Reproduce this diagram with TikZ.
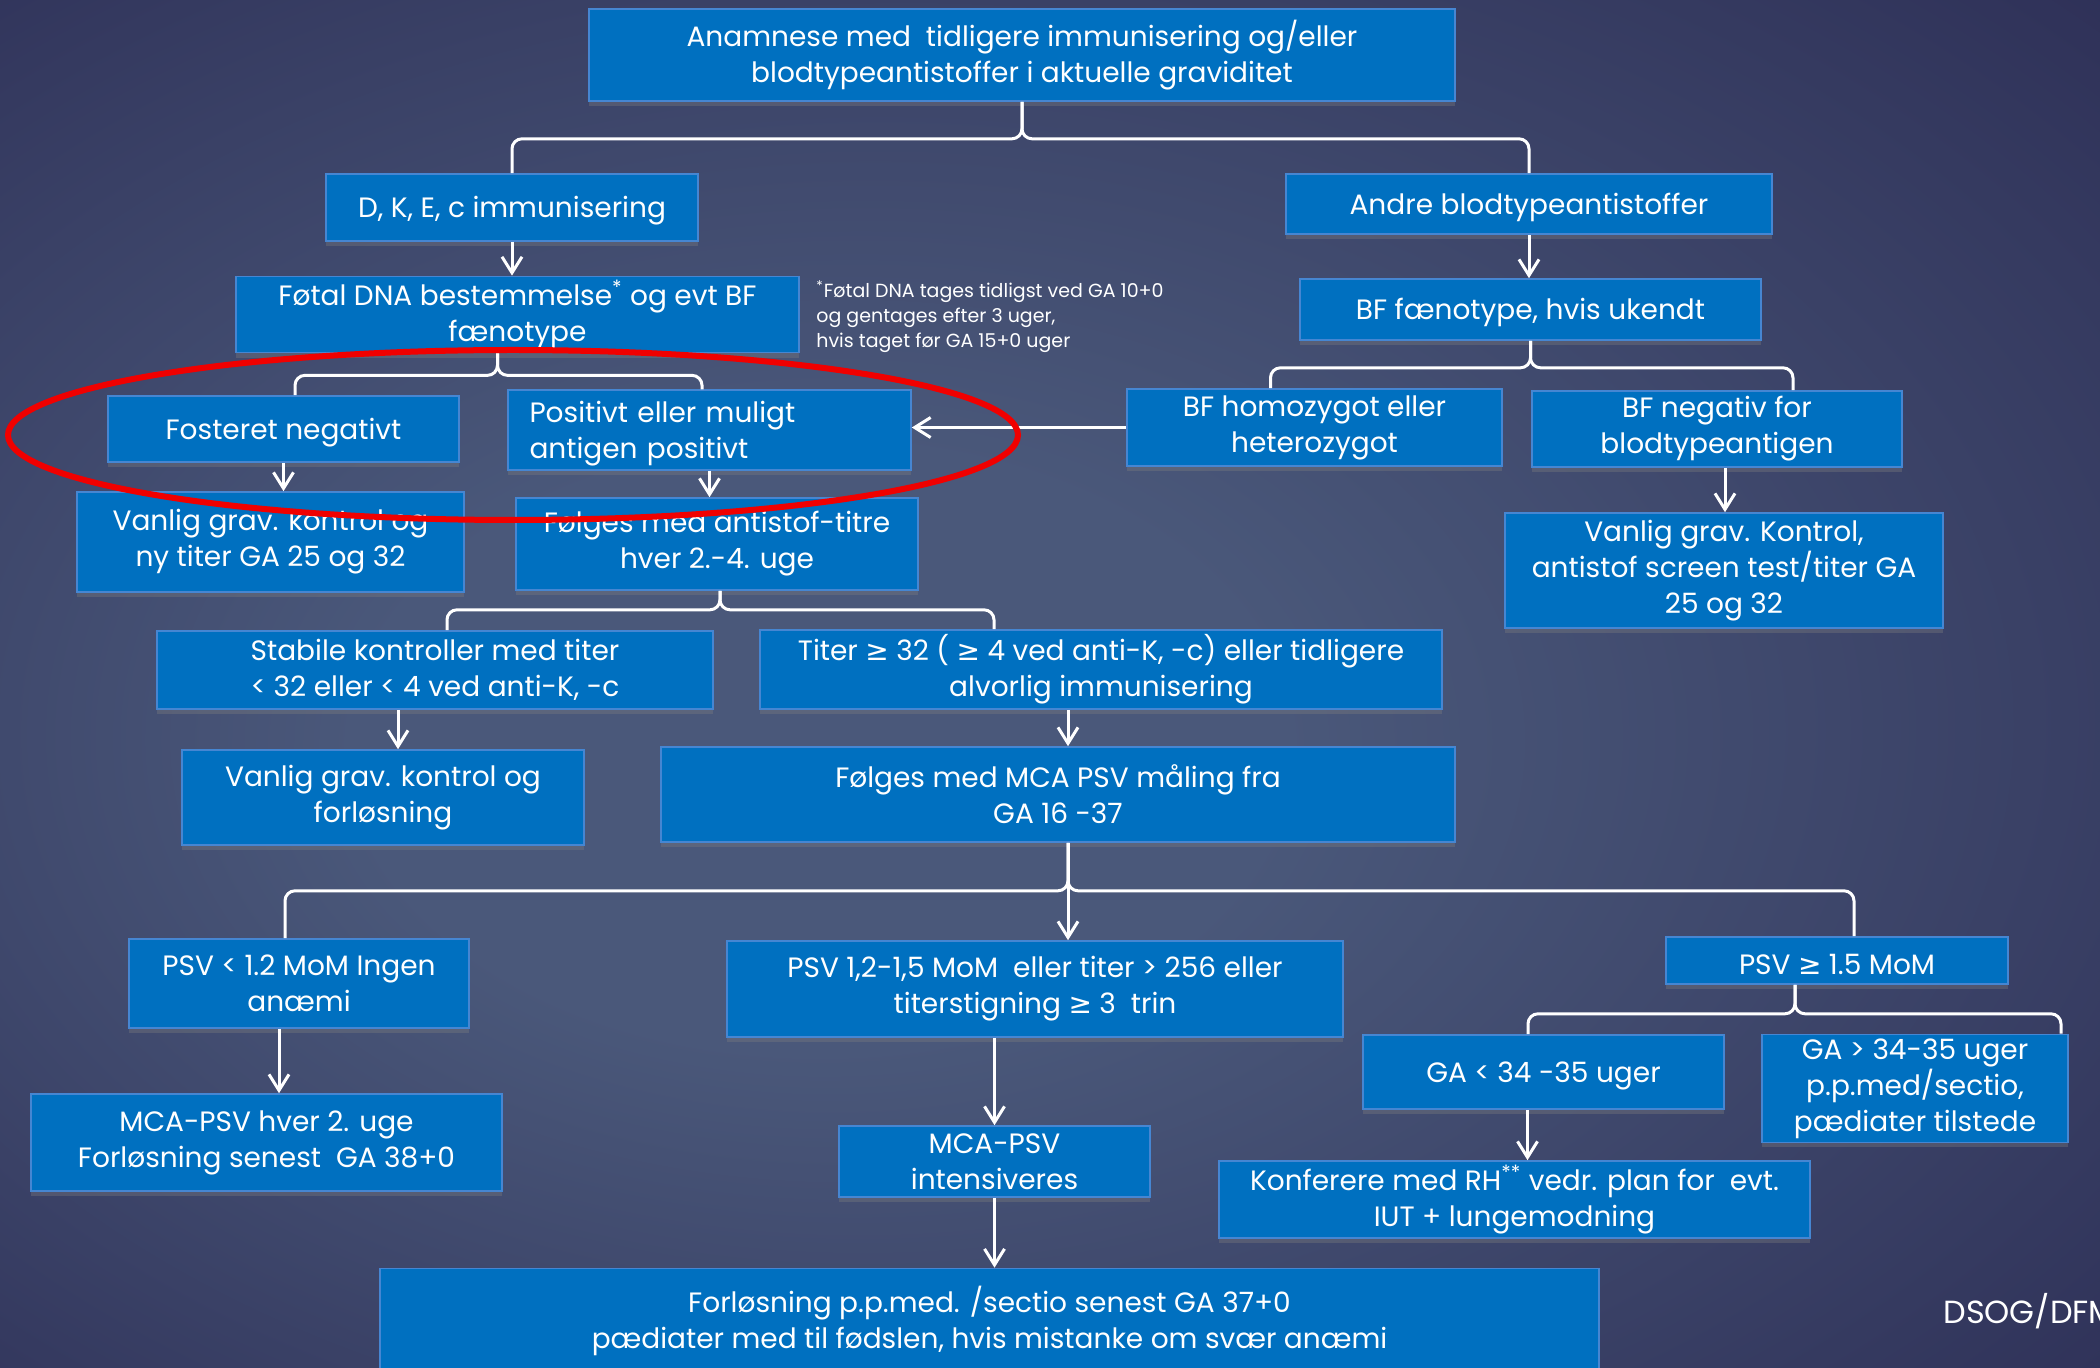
\documentclass[tikz,border=0pt]{standalone}
\usepackage{fontspec}
\setmainfont{Poppins}
\newfontfamily\symfont{DejaVu Sans}
\usetikzlibrary{arrows.meta, shadows}

\definecolor{bgdark}{RGB}{32,28,70}
\definecolor{bgmid}{RGB}{74,88,122}
\definecolor{boxblue}{RGB}{0,112,192}
\definecolor{boxline}{RGB}{70,134,210}
\definecolor{ringred}{RGB}{240,0,0}
\newcommand{\gesym}{{\symfont ≥}}
\pgfdeclareradialshading{bgshade}{\pgfpoint{-7bp}{-3bp}}{color(0bp)=(bgmid); color(11bp)=(bgmid); color(52bp)=(bgdark)}

\begin{document}
\begin{tikzpicture}[x=0.5pt, y=-0.5pt, >={Straight Barb[length=8pt,width=10pt]},
    box/.style={rectangle, fill=boxblue, draw=boxline, line width=0.8pt, text=white,
      align=center, inner sep=2pt, font=\fontsize{14}{18}\selectfont,
      execute at begin node={\rule{0pt}{14pt}},
      drop shadow={opacity=0.35, shadow xshift=0pt, shadow yshift=-2.5pt}},
    sz/.style 2 args={minimum width=#1*0.5pt, minimum height=#2*0.5pt},
    link/.style={draw=white, line width=1.5pt, rounded corners=5pt},
    arr/.style={draw=white, line width=1.5pt, ->},
    note/.style={text=white, align=left, inner sep=0pt, font=\fontsize{9.5}{12.5}\selectfont}]

  \shade[shading=bgshade] (0,0) rectangle (2100,1368);
  \useasboundingbox (0,0) rectangle (2100,1368);

  % top of the tree
  \node[box, sz={866}{92}] (anam) at (1022,55) {Anamnese med\ \ tidligere immunisering og/eller\\ blodtypeantistoffer i aktuelle graviditet};
  \node[box, sz={372}{67}] (dke) at (512,207.5) {D, K, E, c immunisering};
  \node[box, sz={486}{60}] (andre) at (1529,204) {Andre blodtypeantistoffer};
  \node[box, sz={563}{71}] (dna) at (517.5,314.5) {Føtal DNA bestemmelse\textsuperscript{*} og evt BF\\ fænotype};
  \node[note, anchor=north west] (fodnote) at (816,280) {\textsuperscript{*}Føtal DNA tages tidligst ved GA 10+0\\ og gentages efter 3 uger,\\ hvis taget før GA 15+0 uger};
  \node[box, sz={461}{61}] (bffen) at (1530.5,309.5) {BF fænotype, hvis ukendt};

  % second level
  \node[box, sz={351}{66}] (fost) at (283.5,429) {Fosteret negativt};
  \node[box, sz={403}{66}, text width=180pt, align=left] (posit) at (709.5,430) {Positivt eller muligt\\ antigen positivt};
  \node[box, sz={375}{77}] (bfhom) at (1314.5,427.5) {BF homozygot eller\\ heterozygot};
  \node[box, sz={370}{76}] (bfneg) at (1717,429) {BF negativ for\\ blodtypeantigen};
  \node[box, sz={387}{100}] (van1) at (270.5,542) {Vanlig grav. kontrol og\\ ny titer GA 25 og 32};
  \node[box, sz={402}{92}] (folg) at (717,544) {Følges med antistof-titre\\ hver 2.-4. uge};
  \node[box, sz={438}{115}] (vank) at (1724,570.5) {Vanlig grav. Kontrol,\\ antistof screen test/titer GA\\ 25 og 32};

  % titer
  \node[box, sz={556}{78}] (stab) at (435,670) {Stabile kontroller med titer\\ < 32 eller < 4 ved anti-K, -c};
  \node[box, sz={682}{79}] (titer) at (1101,669.5) {Titer \gesym\ 32 ( \gesym\ 4 ved anti-K, -c) eller tidligere\\ alvorlig immunisering};
  \node[box, sz={402}{95}] (van2) at (383,797.5) {Vanlig grav. kontrol og\\ forløsning};
  \node[box, sz={794}{95}] (mca) at (1058,794.5) {Følges med MCA PSV måling fra\\ GA 16 -37};

  % PSV
  \node[box, sz={340}{89}] (psvlo) at (299,983.5) {PSV < 1.2 MoM Ingen\\ anæmi};
  \node[box, sz={616}{96}] (psvmid) at (1035,989) {PSV 1,2-1,5 MoM\ \ eller titer > 256 eller\\ titerstigning \gesym\ 3\ \ trin};
  \node[box, sz={342}{47}] (psvhi) at (1837,960.5) {PSV \gesym\ 1.5 MoM};
  \node[box, sz={471}{97}] (mcahv) at (266.5,1142.5) {MCA-PSV hver 2. uge\\ Forløsning senest\ \ GA 38+0};
  \node[box, sz={311}{71}] (intens) at (994.5,1161.5) {MCA-PSV\\ intensiveres};
  \node[box, sz={361}{74}] (galo) at (1543.5,1072) {GA < 34 -35 uger};
  \node[box, sz={306}{107}] (gahi) at (1915,1088.5) {GA > 34-35 uger\\ p.p.med/sectio,\\ pædiater tilstede};
  \node[box, sz={591}{77}] (konf) at (1514.5,1199.5) {Konferere med RH\textsuperscript{**} vedr. plan for\ \ evt.\\ IUT + lungemodning};
  \node[box, sz={1219}{105}] (forl) at (989.5,1321) {Forløsning p.p.med. /sectio senest GA 37+0\\ pædiater med til fødslen, hvis mistanke om svær anæmi};
  \node[text=white, anchor=west, inner sep=0pt, font=\fontsize{16}{19}\selectfont] (dsog) at (1943,1311) {DSOG/DFM};

  % braces
  \draw[link] (anam.south) -- ++(0,37) -| (dke.north);
  \draw[link] (anam.south) -- ++(0,37) -| (andre.north);
  \draw[link] ([xshift=-10pt]dna.south) -- ++(0,22) -| ([xshift=5.75pt]fost.north);
  \draw[link] ([xshift=-10pt]dna.south) -- ++(0,22) -| ([xshift=-3.75pt]posit.north);
  \draw[link] (bffen.south) -- ++(0,27) -| ([xshift=-22pt]bfhom.north);
  \draw[link] (bffen.south) -- ++(0,27) -| ([xshift=38pt]bfneg.north);
  \draw[link] ([xshift=1.5pt]folg.south) -- ++(0,19) -| ([xshift=6pt]stab.north);
  \draw[link] ([xshift=1.5pt]folg.south) -- ++(0,19) -| ([xshift=-53.5pt]titer.north);
  \draw[link] ([xshift=5pt]mca.south) -- ++(0,48) -| ([xshift=-7pt]psvlo.north);
  \draw[link] ([xshift=5pt]mca.south) -- ++(0,48) -| ([xshift=8.5pt]psvhi.north);
  \draw[link] ([xshift=-21pt]psvhi.south) -- ++(0,29) -| ([xshift=-7.75pt]galo.north);
  \draw[link] ([xshift=-21pt]psvhi.south) -- ++(0,29) -| ([xshift=73pt]gahi.north);

  % arrows
  \draw[arr] (dke.south) -- (dke.south |- dna.north);
  \draw[arr] (andre.south) -- (andre.south |- bffen.north);
  \draw[arr] (bfhom.west) -- (bfhom.west -| posit.east);
  \draw[arr] (fost.south) -- (fost.south |- van1.north);
  \draw[arr] (posit.south) -- (posit.south |- folg.north);
  \draw[arr] ([xshift=4pt]bfneg.south) -- ([xshift=4pt]bfneg.south |- vank.north);
  \draw[arr] ([xshift=7.5pt]van2.north |- stab.south) -- ([xshift=7.5pt]van2.north);
  \draw[arr] ([xshift=5pt]mca.north |- titer.south) -- ([xshift=5pt]mca.north);
  \draw[arr] ([xshift=5pt]mca.south) -- ([xshift=5pt]mca.south |- psvmid.north);
  \draw[arr] ([xshift=6.25pt]mcahv.north |- psvlo.south) -- ([xshift=6.25pt]mcahv.north);
  \draw[arr] (intens.north |- psvmid.south) -- (intens.north);
  \draw[arr] (intens.south) -- (intens.south |- forl.north);
  \draw[arr] ([xshift=-8pt]galo.south) -- ([xshift=-8pt]galo.south |- konf.north);

  % red marking
  \draw[ringred, line width=3pt] (513,435) ellipse [x radius=252.5pt, y radius=42.5pt];
\end{tikzpicture}
\end{document}
